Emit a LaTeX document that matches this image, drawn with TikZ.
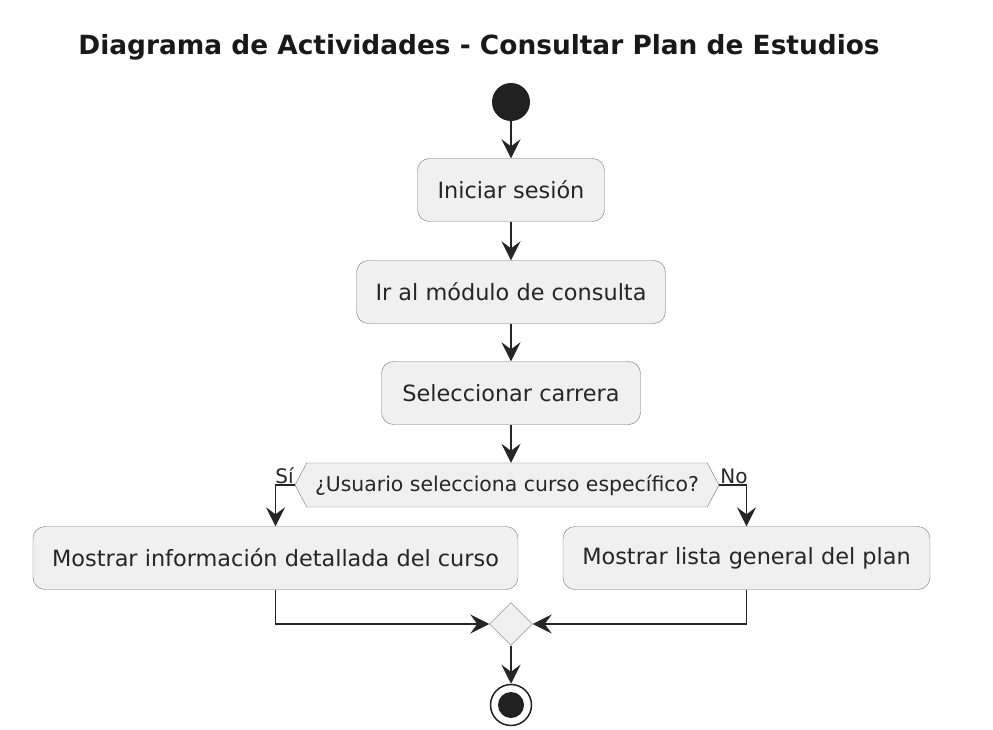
\documentclass[tikz,border=0pt]{standalone}
\usepackage{fontspec}
\setmainfont{DejaVu Sans}
\usetikzlibrary{arrows.meta, positioning, shapes.geometric, shapes.symbols}

\begin{document}
\begin{tikzpicture}[x=1pt, y=-1pt,
  action/.style={draw=black!55, fill=black!6, rounded corners=12pt, minimum height=63pt, inner sep=0pt, font=\fontsize{22.4}{26}\selectfont, text=black!85},
  choice/.style={signal, signal to=west and east, signal pointer angle=124, draw=black!55, fill=black!6, minimum height=44pt, inner sep=2pt, font=\fontsize{20.4}{24}\selectfont, text=black!85},
  flow/.style={draw=black!85, line width=1.5pt, -{Stealth[length=19pt,width=19pt,inset=7pt]}},
  guard/.style={inner sep=1pt, font=\fontsize{20}{24}\selectfont, text=black!85}]
\useasboundingbox (0,0) rectangle (993,730);
% Title
\node[font=\bfseries\fontsize{26.4}{30}\selectfont, text=black!90] (title) at (479,47) {Diagrama de Actividades - Consultar Plan de Estudios};
% Start and actions
\node[circle, fill=black!87, minimum size=38pt, inner sep=0pt] (start) at (511,102) {};
\node[action, minimum width=187pt] (login) at (511,190) {Iniciar sesión};
\node[action, minimum width=309pt] (modulo) at (511,292) {Ir al módulo de consulta};
\node[action, minimum width=259pt] (carrera) at (511,393) {Seleccionar carrera};
% Decision
\node[choice, minimum width=424pt] (pregunta) at (507,485) {¿Usuario selecciona curso específico?};
\node[guard, anchor=south east] (si) at (pregunta.west) {Sí};
\node[guard, anchor=south west] (no) at (pregunta.east) {No};
\node[action, minimum width=485pt] (detalle) at (275.5,558) {Mostrar información detallada del curso};
\node[action, minimum width=367pt] (general) at (746.5,558) {Mostrar lista general del plan};
% Merge and end
\node[diamond, draw=black!55, fill=black!6, minimum width=43pt, minimum height=43pt, inner sep=0pt] (merge) at (511,624) {};
\node[circle, draw=black!87, line width=1.5pt, fill=white, minimum size=41pt, inner sep=0pt] (fin) at (511,705) {};
\node[circle, fill=black!87, minimum size=26pt, inner sep=0pt] (finpunto) at (fin.center) {};
% Connectors
\draw[flow] (start) -- (login);
\draw[flow] (login) -- (modulo);
\draw[flow] (modulo) -- (carrera);
\draw[flow] (carrera.south) -- (carrera.south |- pregunta.north);
\draw[flow] (pregunta.west) -| (detalle.north);
\draw[flow] (pregunta.east) -| (general.north);
\draw[flow] (detalle.south) |- (merge.west);
\draw[flow] (general.south) |- (merge.east);
\draw[flow] (merge) -- (fin);
\end{tikzpicture}
\end{document}
